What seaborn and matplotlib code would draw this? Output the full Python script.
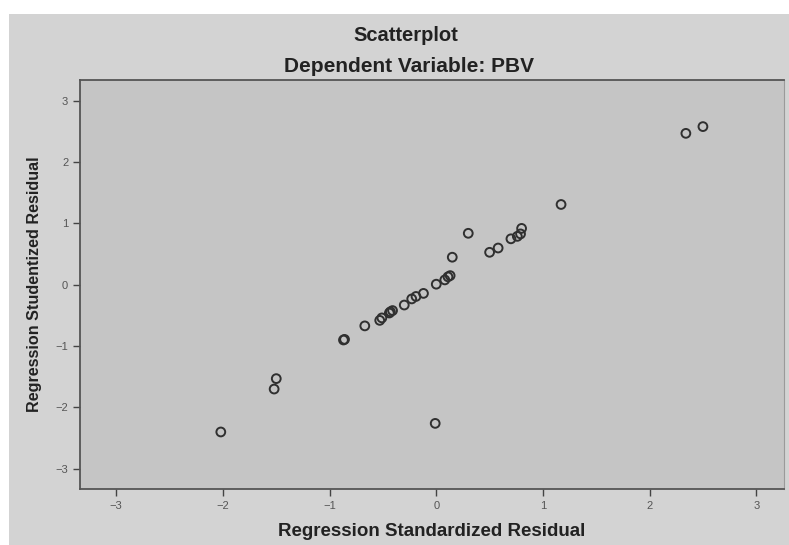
import pandas as pd
import matplotlib.pyplot as plt
import seaborn as sns
from matplotlib.patches import Rectangle

# values
std_resid = [2.50, 2.34, 1.17, 0.30, 0.15, 0.80, 0.79, 0.76, 0.70, 0.58, 0.50,
             0.13, 0.11, 0.08, 0.00, -0.12, -0.19, -0.23, -0.30, -0.41, -0.43,
             -0.44, -0.51, -0.53, -0.67, -0.86, -0.87, -1.50, -1.52, -2.02, -0.01]
stud_resid = [2.58, 2.47, 1.31, 0.84, 0.45, 0.92, 0.83, 0.79, 0.75, 0.60, 0.53,
              0.15, 0.13, 0.08, 0.01, -0.14, -0.19, -0.23, -0.33, -0.42, -0.44,
              -0.46, -0.54, -0.58, -0.67, -0.89, -0.90, -1.53, -1.70, -2.40, -2.26]
ticks = [-3, -2, -1, 0, 1, 2, 3]

df = pd.DataFrame({"x": std_resid, "y": stud_resid})

sns.set_style("white")
plt.rcParams["font.family"] = ["Liberation Sans", "DejaVu Sans"]

fig = plt.figure(figsize=(7.89, 5.45), dpi=100, facecolor="white")
# light grey chart panel behind everything
fig.patches.append(Rectangle((9 / 789, 0), 1, 1 - 14 / 545, transform=fig.transFigure,
                             facecolor="#d3d3d3", edgecolor="none", zorder=-1))
ax = fig.add_axes([80 / 789, 56 / 545, 704 / 789, 409 / 545])
ax.set_facecolor("#c5c5c5")

sns.scatterplot(data=df, x="x", y="y", ax=ax, marker="o", s=40,
                facecolor="none", edgecolor="#303030", linewidth=1.4)

ax.set_xlim(-3.34, 3.26)
ax.set_ylim(-3.33, 3.34)
ax.set_xticks(ticks)
ax.set_yticks(ticks)
ax.tick_params(direction="out", length=5, width=1, color="#444444",
               labelsize=8, labelcolor="#555555", left=True, bottom=True)
for side in ["left", "bottom", "top"]:
    ax.spines[side].set_color("#555555")
    ax.spines[side].set_linewidth(1.3)
ax.spines["right"].set_color("#9a9a9a")

ax.set_xlabel("Regression Standardized Residual", fontsize=13.5, fontweight="bold",
              color="#222222", labelpad=9)
ax.set_ylabel("Regression Studentized Residual", fontsize=11.6, fontweight="bold",
              color="#222222", labelpad=10)

fig.text(406 / 789, 1 - 35 / 545, "Scatterplot", ha="center", va="center",
         fontsize=14.5, fontweight="bold", color="#222222")
fig.text(409 / 789, 1 - 66 / 545, "Dependent Variable: PBV", ha="center", va="center",
         fontsize=15, fontweight="bold", color="#222222")

fig.savefig("out.png", dpi=100, facecolor=fig.get_facecolor())
